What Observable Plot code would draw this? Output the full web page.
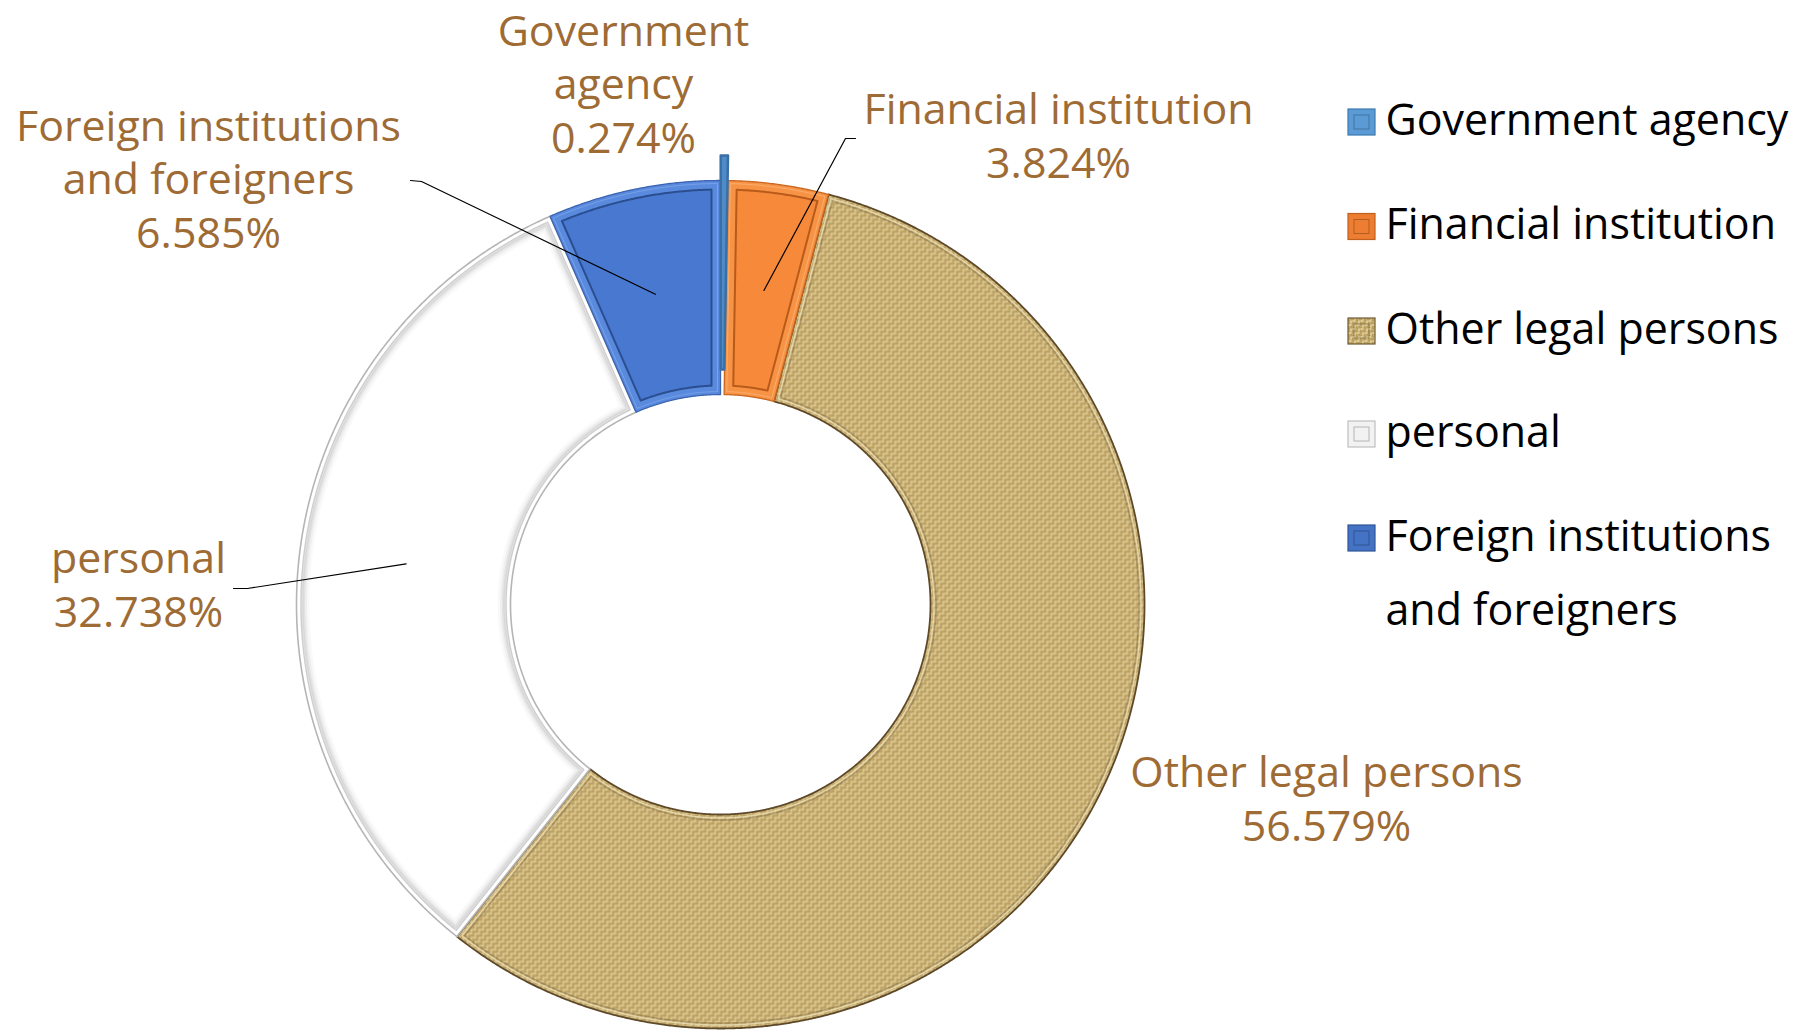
<!DOCTYPE html>
<html><head><meta charset="utf-8">
<script src="https://cdn.jsdelivr.net/npm/d3@7"></script>
<script src="https://cdn.jsdelivr.net/npm/@observablehq/plot@0.6"></script>
<style>
html,body{margin:0;padding:0;background:#fff;}
#chart{width:1798px;height:1031px;}
</style></head><body><div id="chart"></div>
<script>
// ---------- data ----------
const categories = ["Government agency", "Financial institution", "Other legal persons", "personal", "Foreign institutions and foreigners"];
const shares = [0.274, 3.824, 56.579, 32.738, 6.585];
const shareLabels = ["0.274%", "3.824%", "56.579%", "32.738%", "6.585%"];
const labelLines = [["Government", "agency"], ["Financial institution"], ["Other legal persons"], ["personal"], ["Foreign institutions", "and foreigners"]];
const legendLines = [["Government agency"], ["Financial institution"], ["Other legal persons"], ["personal"], ["Foreign institutions", "and foreigners"]];

// ---------- layout (pixels relative to the ring centre, y up) ----------
const W = 1798, H = 1031, CX = 720, CY = 604;
const R_OUT = 424, R_IN = 210;
const explode = [25, 0, 0, 0, 0];
const labelAnchor = [[-97, 452], [338, 427], [606, -236], [-582, -22], [-512, 357]]; // last-line baseline
const leaderTick = [null, [[135, 466], [125, 466]], null, [[-487, 16], [-473, 16]], [[-310, 424], [-299, 423]]];
const legendX = 665, legendSq = [628, 655];
const legendBaseTop = [134, 238.5, 343, 446, 550]; // first-line baselines (from top)
const legendWrap = 74;
const textColor = "#9E6B35";

// ---------- geometry from the data ----------
const arcs = d3.pie().sort(null).value(d => d)(shares);
function ring(i, inset = 0) {
  const a = arcs[i], a0 = a.startAngle, a1 = a.endAngle, mid = (a0 + a1) / 2;
  const ox = explode[i] * Math.sin(mid), oy = explode[i] * Math.cos(mid);
  const ro = R_OUT - inset, ri = R_IN + inset;
  const b0o = a0 + inset / ro, b1o = a1 - inset / ro, b0i = a0 + inset / ri, b1i = a1 - inset / ri;
  const n = Math.max(2, Math.ceil((a1 - a0) / 0.004));
  const pts = [];
  for (let k = 0; k <= n; k++) { const t = b0o + (b1o - b0o) * k / n; pts.push({x: ox + ro * Math.sin(t), y: oy + ro * Math.cos(t)}); }
  for (let k = n; k >= 0; k--) { const t = b0i + (b1i - b0i) * k / n; pts.push({x: ox + ri * Math.sin(t), y: oy + ri * Math.cos(t)}); }
  return pts;
}
function midPoint(i) {
  const a = arcs[i], mid = (a.startAngle + a.endAngle) / 2, r = (R_OUT + R_IN) / 2;
  return {x: r * Math.sin(mid), y: r * Math.cos(mid)};
}

// font sizes matched to measured widths
const ctx = document.createElement("canvas").getContext("2d");
ctx.font = "40px 'Open Sans'";
const fs = 40 * 385 / ctx.measureText("Foreign institutions").width;
const legendFs = 40 * 403 / ctx.measureText("Government agency").width;
const labelLH = 53.3 / fs;

// ---------- defs (texture) ----------
function defsMark() {
  const g = d3.create("svg:g");
  const defs = g.append("defs");
  const p = defs.append("pattern").attr("id", "burlap").attr("patternUnits", "userSpaceOnUse").attr("width", 8).attr("height", 8);
  p.append("rect").attr("width", 8).attr("height", 8).attr("fill", "#7F6232");
  const light = "#F3E2A8", mid = "#D4B874";
  const quads = [[0, 0, "h"], [4, 0, "v"], [0, 4, "v"], [4, 4, "h"]];
  for (const [qx, qy, o] of quads) {
    for (let k = 0; k < 2; k++) {
      if (o === "h") p.append("rect").attr("x", qx + 0.15).attr("y", qy + k * 2 + 0.2).attr("width", 3.7).attr("height", 1.6).attr("fill", k ? mid : light);
      else p.append("rect").attr("x", qx + k * 2 + 0.2).attr("y", qy + 0.15).attr("width", 1.6).attr("height", 3.7).attr("fill", k ? light : mid);
    }
  }
  return g.node();
}

// ---------- marks ----------
const line = (pts, o) => Plot.line(pts, {x: "x", y: "y", curve: "linear-closed", ...o});
const marks = [defsMark];
// Other legal persons (textured)
marks.push(line(ring(2), {fill: "url(#burlap)", stroke: "#5E4A2A", strokeWidth: 1.8}));
marks.push(line(ring(2, 3.5), {fill: "none", stroke: "#EADDB4", strokeWidth: 1.3, strokeOpacity: 0.85}));
marks.push(line(ring(2, 5.5), {fill: "none", stroke: "#5E4A2A", strokeWidth: 1.5, strokeOpacity: 0.3}));
// personal
marks.push(line(ring(3), {fill: "#fff", stroke: "#B5B5B5", strokeWidth: 1.6}));
[[10, 0.05, 6], [8.5, 0.08, 4], [7, 0.12, 3], [6, 0.18, 2]].forEach(([ins, op, sw]) =>
  marks.push(line(ring(3, ins), {fill: "none", stroke: "#808080", strokeWidth: sw, strokeOpacity: op})));
marks.push(line(ring(3, 4.5), {fill: "none", stroke: "#CFCFCF", strokeWidth: 1.5}));
// Foreign institutions
marks.push(line(ring(4), {fill: "#5A8ADD", stroke: "#3C64B0", strokeWidth: 1.3}));
marks.push(line(ring(4, 9), {fill: "#4878CF", stroke: "#2B4E90", strokeWidth: 2}));
marks.push(line(ring(4, 3), {fill: "none", stroke: "#7EA6EC", strokeWidth: 1, strokeOpacity: 0.8}));
// Financial institution
marks.push(line(ring(1), {fill: "#F79345", stroke: "#C9661F", strokeWidth: 1.3}));
marks.push(line(ring(1, 9), {fill: "#F6893A", stroke: "#B85A1A", strokeWidth: 2}));
marks.push(line(ring(1, 3), {fill: "none", stroke: "#FBB47A", strokeWidth: 1, strokeOpacity: 0.8}));
// Government agency (exploded)
marks.push(line(ring(0), {fill: "#4F8BC9", stroke: "#3A6FA6", strokeWidth: 2.5}));

// leader lines
const leaderRows = [];
leaderTick.forEach((t, i) => {
  if (!t) return;
  const m = midPoint(i);
  leaderRows.push({x: t[0][0], y: t[0][1], k: i}, {x: t[1][0], y: t[1][1], k: i}, {x: m.x, y: m.y, k: i});
});
marks.push(Plot.line(leaderRows, {x: "x", y: "y", z: "k", stroke: "#000", strokeWidth: 1.2}));

// data labels
const labelRows = categories.map((c, i) => ({x: labelAnchor[i][0], y: labelAnchor[i][1], text: [...labelLines[i], shareLabels[i]].join("\n")}));
marks.push(Plot.text(labelRows, {x: "x", y: "y", text: "text", textAnchor: "middle", lineAnchor: "bottom", lineHeight: labelLH, fontSize: fs, fill: textColor}));

// legend
const legFill = ["#5B9BD5", "#ED7D31", "url(#burlap)", "#F2F2F2", "#4472C4"];
const legStroke = ["#3D79B0", "#C0601E", "#6E5A35", "#BFBFBF", "#2F5597"];
const legRows = categories.map((c, i) => ({i, x1: legendSq[0], x2: legendSq[1], y1: CY - legendBaseTop[i] - 1, y2: CY - legendBaseTop[i] + 25}));
legRows.forEach(r => marks.push(Plot.rect([r], {x1: "x1", x2: "x2", y1: "y1", y2: "y2", fill: legFill[r.i], stroke: legStroke[r.i], strokeWidth: 1.2})));
legRows.forEach(r => marks.push(Plot.rect([r], {x1: d => d.x1 + 6, x2: d => d.x2 - 6, y1: d => d.y1 + 6, y2: d => d.y2 - 6, fill: "none", stroke: "#000", strokeOpacity: 0.25, strokeWidth: 1})));
const legTextRows = categories.map((c, i) => ({x: legendX, y: CY - legendBaseTop[i] - (legendLines[i].length - 1) * legendWrap, text: legendLines[i].join("\n")}));
marks.push(Plot.text(legTextRows, {x: "x", y: "y", text: "text", textAnchor: "start", lineAnchor: "bottom", lineHeight: legendWrap / legendFs, fontSize: legendFs, fill: "#000"}));

const chart = Plot.plot({
  width: W, height: H, margin: 0,
  x: {domain: [-CX, W - CX], axis: null},
  y: {domain: [CY - H, CY], axis: null},
  style: {fontFamily: "'Open Sans', sans-serif", background: "#fff", overflow: "visible"},
  marks
});
document.getElementById("chart").append(chart);
</script>
</body></html>
